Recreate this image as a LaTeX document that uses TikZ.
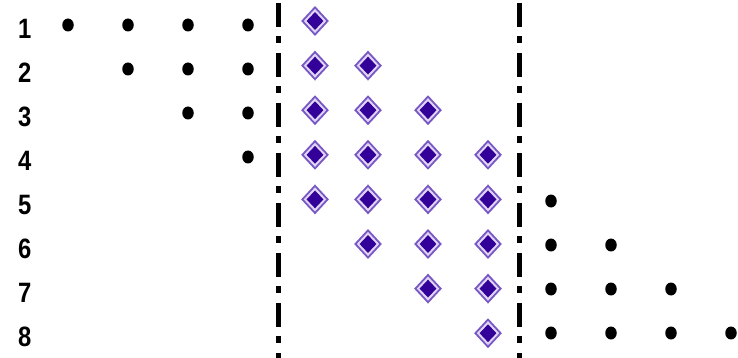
\documentclass[tikz,border=0pt]{standalone}
\usepackage{fontspec}
\setmainfont{Liberation Sans}
\usetikzlibrary{shapes.geometric}
\definecolor{dotblack}{RGB}{0,0,0}
\definecolor{dmdark}{RGB}{51,0,153}
\definecolor{dmring}{RGB}{120,88,196}
\definecolor{dmfill}{RGB}{225,215,245}
\tikzset{
  rowlabel/.style={font=\bfseries\fontsize{28}{28}\selectfont, inner sep=0pt, anchor=west, xscale=0.85},
  blackdot/.style={ellipse, fill=dotblack, minimum width=11.5pt, minimum height=13pt, inner sep=0pt},
  dmouter/.style={diamond, draw=dmring, line width=1.8pt, fill=dmfill, minimum width=26pt, minimum height=28pt, inner sep=0pt},
  dminner/.style={diamond, fill=dmdark, minimum width=17pt, minimum height=18pt, inner sep=0pt},
  divider/.style={line width=5pt, dash pattern=on 24pt off 9pt on 7pt off 10pt}
}
\begin{document}
\begin{tikzpicture}[x=1pt,y=-1pt]
\useasboundingbox (0,0) rectangle (738,358);
% row labels
\foreach \i in {1,...,8} {
  \node[rowlabel] (lab\i) at (18,{28.5+44.1*(\i-1)}) {\i};
}
% left dots (rows 1-4)
\foreach \r in {1,...,4} {
  \foreach \c in {\r,...,4} {
    \node[blackdot] (ld\r\c) at ({68+60*(\c-1)},{25+44*(\r-1)}) {};
  }
}
% diamonds
\foreach \r in {1,...,8} {
  \pgfmathtruncatemacro{\cmin}{max(1,\r-4)}
  \pgfmathtruncatemacro{\cmax}{min(4,\r)}
  \foreach \c in {\cmin,...,\cmax} {
    \pgfmathsetmacro{\xx}{315+ifthenelse(\c==1,0,53+60*(\c-2))}
    \node[dmouter] (dmo\r\c) at (\xx,{21+44.6*(\r-1)}) {};
    \node[dminner] (dmi\r\c) at (dmo\r\c.center) {};
  }
}
% right dots (rows 5-8)
\foreach \r in {5,...,8} {
  \pgfmathtruncatemacro{\cmax}{\r-4}
  \foreach \c in {1,...,\cmax} {
    \node[blackdot] (rd\r\c) at ({551+60*(\c-1)},{25+44*(\r-1)}) {};
  }
}
% dividers
\coordinate (d1top) at (278.5,3);
\coordinate (d1bot) at (278.5,358);
\coordinate (d2top) at (519.5,3);
\coordinate (d2bot) at (519.5,358);
\draw[divider] (d1top) -- (d1bot);
\draw[divider] (d2top) -- (d2bot);
\end{tikzpicture}
\end{document}
